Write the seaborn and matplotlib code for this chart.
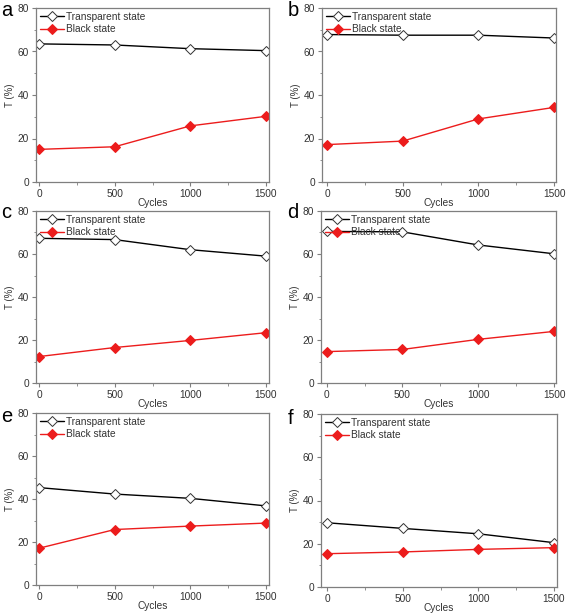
import numpy as np
import pandas as pd
import matplotlib
matplotlib.use("Agg")
import matplotlib.pyplot as plt
from matplotlib.ticker import MultipleLocator
import seaborn as sns

sns.set_theme(style="white")
plt.rcParams['font.family'] = ['Liberation Sans', 'DejaVu Sans']

cycles = [0, 500, 1000, 1500]
panels = ["a", "b", "c", "d", "e", "f"]
transparent = {
    "a": [63.5, 63.0, 61.3, 60.4],
    "b": [67.8, 67.5, 67.5, 66.2],
    "c": [67.3, 66.7, 62.0, 59.0],
    "d": [70.5, 70.3, 64.2, 60.1],
    "e": [45.3, 42.3, 40.3, 36.8],
    "f": [29.7, 27.1, 24.6, 20.5],
}
black = {
    "a": [15.0, 16.2, 25.8, 30.2],
    "b": [17.2, 18.8, 29.0, 34.3],
    "c": [12.3, 16.5, 19.8, 23.4],
    "d": [14.6, 15.6, 20.3, 24.0],
    "e": [17.1, 25.8, 27.4, 28.8],
    "f": [15.4, 16.2, 17.4, 18.2],
}

W, H = 567, 613
fig = plt.figure(figsize=(W / 100, H / 100), dpi=100)

# pixel boxes: left, right, top, bottom ; xlim ; letter (x, baseline y)
boxes = {
    "a": (36, 269, 8, 182, (-20, 1520), (1, 16)),
    "b": (322, 556, 8, 182, (-33, 1513), (288, 16)),
    "c": (36, 269, 211, 383, (-20, 1520), (1, 218)),
    "d": (321, 556, 211, 383, (-37, 1513), (287, 218)),
    "e": (36, 269, 413, 585, (-20, 1520), (1, 422)),
    "f": (321, 557, 414, 587, (-40, 1520), (288, 424)),
}

gray = "#7f7f7f"
fs = 6.9
for p in panels:
    l, r, t, b, xl, (lx, ly) = boxes[p]
    ax = fig.add_axes([l / W, 1 - b / H, (r - l) / W, (b - t) / H])
    df = pd.DataFrame({"Cycles": cycles * 2,
                       "T": transparent[p] + black[p],
                       "state": ["Transparent state"] * 4 + ["Black state"] * 4})
    sns.lineplot(data=df[df.state == "Transparent state"], x="Cycles", y="T", ax=ax,
                 color="black", lw=1.0, marker="D", markersize=4.8,
                 markerfacecolor="white", markeredgecolor="#333333", markeredgewidth=0.7,
                 label="Transparent state")
    sns.lineplot(data=df[df.state == "Black state"], x="Cycles", y="T", ax=ax,
                 color="#ec1c1c", lw=1.0, marker="D", markersize=4.8,
                 markerfacecolor="#ec1c1c", markeredgecolor="#ec1c1c",
                 label="Black state")
    ax.set_xlim(*xl)
    ax.set_ylim(0, 80)
    ax.set_xticks(cycles)
    ax.set_yticks([0, 20, 40, 60, 80])
    ax.xaxis.set_minor_locator(MultipleLocator(250))
    ax.yaxis.set_minor_locator(MultipleLocator(10))
    ax.tick_params(which="major", direction="out", length=3, width=0.8, color=gray,
                   labelsize=fs + 0.4, labelcolor="#333333", pad=2, bottom=True, left=True)
    ax.tick_params(which="minor", direction="out", length=1.8, width=0.6, color=gray,
                   bottom=True, left=True)
    for s in ax.spines.values():
        s.set_color(gray)
        s.set_linewidth(0.9)
    ax.set_xlabel("Cycles", fontsize=fs + 0.4, color="#333333", labelpad=-0.5)
    ax.set_ylabel("T (%)", fontsize=fs, color="#333333", labelpad=2)
    leg = ax.legend(loc="upper left", frameon=False, fontsize=fs + 0.4, handlelength=2.4,
                    handletextpad=0.2, borderaxespad=0.25, labelspacing=0.25,
                    borderpad=0.1)
    for txt in leg.get_texts():
        txt.set_color("#333333")
    fig.text(lx / W, 1 - ly / H, p, fontsize=14.5, va="baseline", ha="left",
             color="black")

fig.savefig("out.png", dpi=100)
